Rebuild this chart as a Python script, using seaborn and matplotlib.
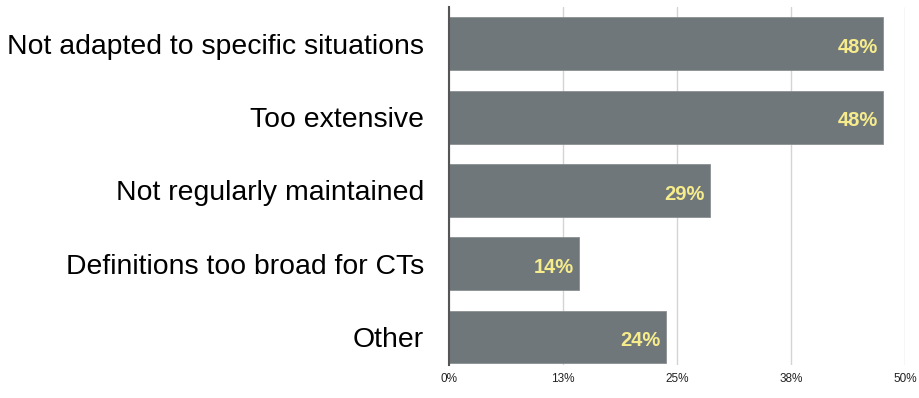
import matplotlib
matplotlib.use("Agg")
import matplotlib.pyplot as plt
import seaborn as sns
import pandas as pd

categories = ["Not adapted to specific situations", "Too extensive",
              "Not regularly maintained", "Definitions too broad for CTs", "Other"]
values = [47.6, 47.6, 28.6, 14.3, 23.8]
labels = ["48%", "48%", "29%", "14%", "24%"]
tick_vals = [0, 12.5, 25, 37.5, 50]
tick_labels = ["0%", "13%", "25%", "38%", "50%"]

sns.set_theme(style="white")
plt.rcParams['font.family'] = ['Liberation Sans', 'DejaVu Sans']

df = pd.DataFrame({"cat": categories, "val": values})

fig = plt.figure(figsize=(9.2, 3.98), dpi=100)
ax = fig.add_axes([0.488, 0.083, 0.4957, 0.899])
sns.barplot(data=df, x="val", y="cat", orient="h", color="#6f777b",
            saturation=1, width=0.72, ax=ax, zorder=3)
for p in ax.patches:
    p.set_edgecolor("#8a9092")
    p.set_linewidth(0.6)

ax.set_xlim(0, 50)
ax.set_ylim(4.38, -0.5)
ax.set_xticks(tick_vals)
ax.set_xticklabels(tick_labels, fontsize=8.5, color="#222222")
ax.tick_params(axis="y", labelsize=20.4, length=0, pad=18, colors="#000000")
ax.tick_params(axis="x", length=0, pad=6)
ax.set_xlabel("")
ax.set_ylabel("")
ax.grid(axis="x", color="#d4d4d4", linewidth=1, zorder=0)
ax.set_axisbelow(True)
for s in ["top", "right", "bottom"]:
    ax.spines[s].set_visible(False)
ax.spines["left"].set_color("#555555")
ax.spines["left"].set_linewidth(1.5)
ax.spines["left"].set_zorder(5)

for i, (v, lab) in enumerate(zip(values, labels)):
    ax.text(v - 0.6, i + 0.05, lab, ha="right", va="center", fontsize=14.5,
            fontweight="bold", color="#f6ec8c", zorder=6)

fig.savefig("out.png", dpi=100)
